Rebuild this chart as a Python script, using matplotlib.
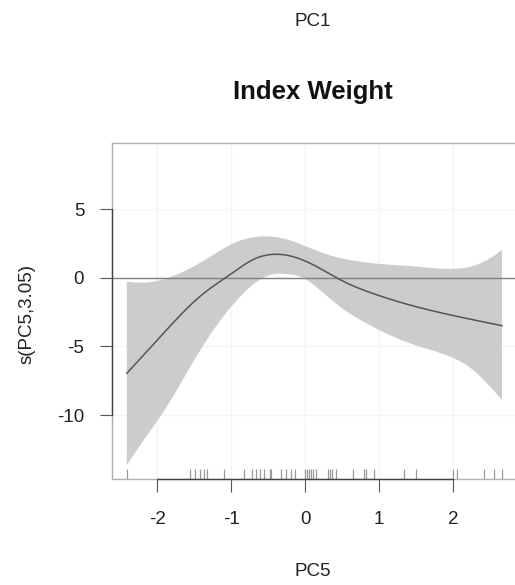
import numpy as np
import matplotlib
matplotlib.use("Agg")
import matplotlib.pyplot as plt

plt.rcParams["font.family"] = ["Liberation Sans", "DejaVu Sans"]

# smooth term s(PC5, 3.05): fit and confidence band
pc5 = [-2.41, -1.9, -1.4, -1.0, -0.7, -0.4, -0.1, 0.2, 0.5, 0.9, 1.4, 1.9, 2.66]
fit = [-6.96, -3.95, -1.25, 0.30, 1.35, 1.73, 1.45, 0.70, -0.20, -1.10,
       -1.95, -2.62, -3.48]

upper_x = [-2.41, -2.18, -1.87, -1.60, -1.28, -0.97, -0.70, -0.47, -0.25, 0.02,
           0.29, 0.61, 1.06, 1.51, 1.96, 2.27, 2.50, 2.66]
upper_y = [-0.27, -0.34, -0.02, 0.58, 1.56, 2.53, 2.97, 3.02, 2.82, 2.29,
           1.73, 1.31, 1.00, 0.83, 0.66, 0.88, 1.44, 2.04]

lower_x = [-2.41, -2.18, -1.87, -1.55, -1.24, -0.92, -0.65, -0.43, -0.25, -0.02,
           0.20, 0.47, 0.83, 1.19, 1.55, 1.96, 2.27, 2.50, 2.66]
lower_y = [-13.65, -11.82, -9.39, -6.47, -3.80, -1.61, -0.27, 0.27, 0.29, -0.02,
           -0.88, -2.09, -3.31, -4.28, -5.01, -5.74, -6.72, -7.93, -8.90]

rug = [-2.41, -1.55, -1.49, -1.42, -1.37, -1.33, -1.09, -0.82, -0.72, -0.66,
       -0.61, -0.56, -0.48, -0.46, -0.32, -0.26, -0.19, -0.14, 0.00, 0.02,
       0.05, 0.08, 0.11, 0.15, 0.31, 0.33, 0.36, 0.42, 0.65, 0.79,
       0.82, 0.93, 1.33, 1.50, 2.00, 2.05, 2.42, 2.55, 2.66]

xticks = [-2, -1, 0, 1, 2]
yticks = [-10, -5, 0, 5]
xlim = (-2.61, 3.066)
ylim = (-14.67, 9.85)


def spline(xs, ys, n=400):
    """natural cubic spline through the read points"""
    x = np.asarray(xs, float)
    y = np.asarray(ys, float)
    m = len(x)
    h = np.diff(x)
    A = np.zeros((m, m))
    r = np.zeros(m)
    A[0, 0] = A[-1, -1] = 1
    for i in range(1, m - 1):
        A[i, i - 1] = h[i - 1]
        A[i, i] = 2 * (h[i - 1] + h[i])
        A[i, i + 1] = h[i]
        r[i] = 6 * ((y[i + 1] - y[i]) / h[i] - (y[i] - y[i - 1]) / h[i - 1])
    M = np.linalg.solve(A, r)
    xx = np.linspace(x[0], x[-1], n)
    k = np.clip(np.searchsorted(x, xx) - 1, 0, m - 2)
    t0 = x[k + 1] - xx
    t1 = xx - x[k]
    hk = h[k]
    yy = (M[k] * t0 ** 3 / (6 * hk) + M[k + 1] * t1 ** 3 / (6 * hk)
          + (y[k] / hk - M[k] * hk / 6) * t0 + (y[k + 1] / hk - M[k + 1] * hk / 6) * t1)
    return xx, yy


fig = plt.figure(figsize=(5.15, 5.85), dpi=100)
ax = fig.add_axes([112 / 515, 1 - 479 / 585, 420 / 515, 336 / 585])

ux, uy = spline(upper_x, upper_y)
lx, ly = spline(lower_x, lower_y)
band_x = np.concatenate([ux, lx[::-1]])
band_y = np.concatenate([uy, ly[::-1]])

for t in xticks:
    ax.axvline(t, color="#f4f4f4", lw=1, zorder=0)
for t in yticks:
    ax.axhline(t, color="#f4f4f4", lw=1, zorder=0)

ax.fill(band_x, band_y, color="#cccccc", lw=0, zorder=1)
ax.axhline(0, color="#808080", lw=1, zorder=2)
fx, fy = spline(pc5, fit)
ax.plot(fx, fy, color="#555555", lw=1.1, zorder=3)

# rug along the bottom
rug_h = (ylim[1] - ylim[0]) * 0.03
ax.vlines(rug, ylim[0], ylim[0] + rug_h, color="#999999", lw=0.9, zorder=3)

ax.set_xlim(*xlim)
ax.set_ylim(*ylim)
for s in ax.spines.values():
    s.set_color("#b0b0b0")
    s.set_linewidth(1)

# R-style axis lines spanning the tick range
ax.plot([xticks[0], xticks[-1]], [ylim[0], ylim[0]], color="#444444", lw=1,
        clip_on=False, zorder=4)
ax.plot([xlim[0], xlim[0]], [yticks[0], yticks[-1]], color="#444444", lw=1,
        clip_on=False, zorder=4)

ax.set_xticks(xticks)
ax.set_yticks(yticks)
ax.set_xticklabels([str(t) for t in xticks])
ax.set_yticklabels([str(t) for t in yticks])
ax.tick_params(axis="both", length=9, width=0.8, color="#555555",
               labelsize=13.5, labelcolor="#222222")
ax.tick_params(axis="x", pad=14)
ax.tick_params(axis="y", pad=11)

fig.text(313 / 515, 1 - 22 / 585, "PC1", ha="center", va="center",
         fontsize=13.5, color="#222222")
fig.text(313 / 515, 1 - 92 / 585, "Index Weight", ha="center", va="center",
         fontsize=18.5, fontweight="bold", color="#111111")
fig.text(313 / 515, 1 - 571 / 585, "PC5", ha="center", va="center",
         fontsize=13.5, color="#222222")
fig.text(27 / 515, 1 - 314 / 585, "s(PC5,3.05)", ha="center", va="center",
         rotation=90, fontsize=13.5, color="#222222")

fig.savefig("out.png", dpi=100)
